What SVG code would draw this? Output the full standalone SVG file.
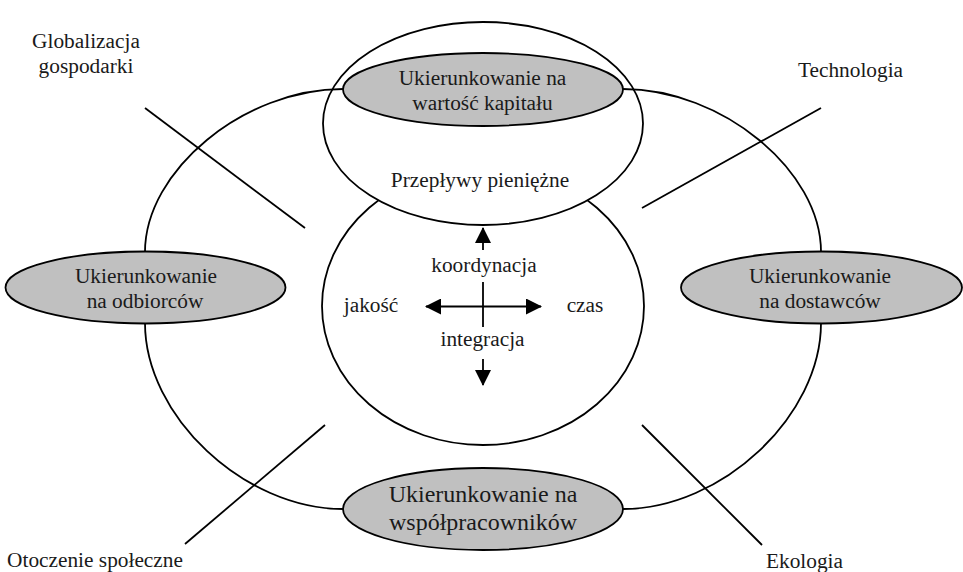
<svg xmlns="http://www.w3.org/2000/svg" width="963" height="572" viewBox="0 0 963 572" font-family="'Liberation Serif', 'Times New Roman', 'DejaVu Serif', serif">
<style>
.line{fill:none;stroke:#000;stroke-width:1.8}
.white{fill:#fff;stroke:#000;stroke-width:1.8}
.gray{fill:#c0c0c0;stroke:#000;stroke-width:1.8}
.t{font-family:'Liberation Serif','Times New Roman','DejaVu Serif',serif;font-size:21.33px;fill:#1a1a1a;text-anchor:middle}
.big{font-size:24px}
</style>
<defs>
<marker id="ah" markerUnits="userSpaceOnUse" markerWidth="16" markerHeight="16" viewBox="0 0 16 16" refX="15" refY="8" orient="auto-start-reverse">
<path d="M0,0 L16,8 L0,16 z" fill="#000"/>
</marker>
</defs>
<g id="center-circle"><ellipse class="white" cx="483" cy="306" rx="161" ry="139"/></g>
<g id="top-circle"><ellipse class="white" cx="483" cy="123.5" rx="160" ry="101.5"/>
<text class="t" x="480" y="187">Przepływy pieniężne</text></g>
<g id="connectors">
<path class="line" d="M343,89 C244,89 145,170.5 145,252"/>
<path class="line" d="M623,89 C722,89 821,170.5 821,252"/>
<path class="line" d="M145,323 C145,416 244,509 343,509"/>
<path class="line" d="M821,323 C821,416 722,509 623,509"/>
<line class="line" x1="145" y1="108" x2="305" y2="228"/>
<line class="line" x1="821" y1="108" x2="642" y2="208"/>
<line class="line" x1="325" y1="425" x2="185" y2="544"/>
<line class="line" x1="642" y1="425" x2="762" y2="545"/>
<line class="line" x1="483" y1="250" x2="483" y2="228" marker-end="url(#ah)"/>
<line class="line" x1="483" y1="282" x2="483" y2="327"/>
<line class="line" x1="426" y1="306.5" x2="541" y2="306.5" marker-start="url(#ah)" marker-end="url(#ah)"/>
<line class="line" x1="483" y1="359" x2="483" y2="385" marker-end="url(#ah)"/>
</g>
<g id="node-top"><ellipse class="gray" cx="483" cy="89.5" rx="140" ry="36.5"/>
<text class="t" x="482.5" y="85">Ukierunkowanie na</text><text class="t" x="482.5" y="110">wartość kapitału</text></g>
<g id="node-left"><ellipse class="gray" cx="145.5" cy="287.5" rx="140" ry="36"/>
<text class="t" x="146" y="283">Ukierunkowanie</text><text class="t" x="145" y="308">na odbiorców</text></g>
<g id="node-right"><ellipse class="gray" cx="821.5" cy="287.5" rx="140.5" ry="36"/>
<text class="t" x="820" y="283">Ukierunkowanie</text><text class="t" x="820" y="308">na dostawców</text></g>
<g id="node-bottom"><ellipse class="gray" cx="483" cy="509" rx="140" ry="41"/>
<text class="t big" x="483" y="501.5">Ukierunkowanie na</text><text class="t big" x="483" y="530">współpracowników</text></g>
<g id="center-labels">
<text class="t" x="484" y="271.5">koordynacja</text>
<text class="t" x="371" y="311.5">jakość</text>
<text class="t" x="585" y="311.5">czas</text>
<text class="t" x="482.5" y="346">integracja</text>
</g>
<g id="factor-global"><text class="t" x="86" y="48">Globalizacja</text><text class="t" x="86" y="73">gospodarki</text></g>
<g id="factor-tech"><text class="t" x="850.5" y="76.5">Technologia</text></g>
<g id="factor-social"><text class="t" x="95" y="566.5">Otoczenie społeczne</text></g>
<g id="factor-eco"><text class="t" x="804.5" y="567.5">Ekologia</text></g>
</svg>
